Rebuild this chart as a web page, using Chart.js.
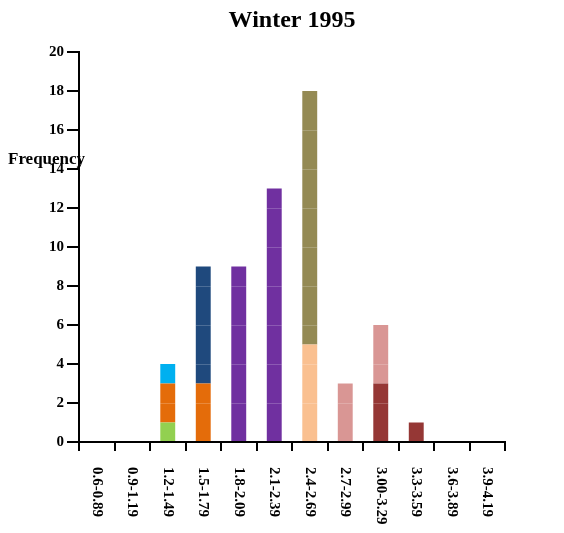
<!DOCTYPE html>
<html>
<head>
<meta charset="utf-8">
<script src="https://cdn.jsdelivr.net/npm/chart.js@4.4.1/dist/chart.umd.min.js"></script>
<style>
  html, body { margin: 0; padding: 0; background: #fff; }
  #wrap { width: 564px; height: 533px; }
</style>
</head>
<body>
<div id="wrap"><canvas id="chart"></canvas></div>
<script>
// categories (class intervals)
const categories = ['0.6-0.89', '0.9-1.19', '1.2-1.49', '1.5-1.79', '1.8-2.09', '2.1-2.39',
                    '2.4-2.69', '2.7-2.99', '3.00-3.29', '3.3-3.59', '3.6-3.89', '3.9-4.19'];

// stacked pieces, bottom to top
const greenVals  = [null, null, 1, null, null, null, null, null, null, null, null, null];
const orangeVals = [null, null, 2, 3, null, null, null, null, null, null, null, null];
const cyanVals   = [null, null, 1, null, null, null, null, null, null, null, null, null];
const navyVals   = [null, null, null, 6, null, null, null, null, null, null, null, null];
const purpleVals = [null, null, null, null, 9, 13, null, null, null, null, null, null];
const peachVals  = [null, null, null, null, null, null, 5, null, null, null, null, null];
const oliveVals  = [null, null, null, null, null, null, 13, null, null, null, null, null];
const redVals    = [null, null, null, null, null, null, null, null, 3, 1, null, null];
const pinkVals   = [null, null, null, null, null, null, null, 3, 3, null, null, null];

const yTicks = [0, 2, 4, 6, 8, 10, 12, 14, 16, 18, 20];

const serif = "'Liberation Serif', 'Times New Roman', serif";

function series(data, color) {
    return {
        data: data,
        backgroundColor: color,
        borderWidth: 0,
        barPercentage: 0.42,
        categoryPercentage: 1.0
    };
}

// faint white lines across bars at each gridline value
const barLines = {
    id: 'barLines',
    afterDatasetsDraw(chart) {
        const ctx = chart.ctx;
        const y = chart.scales.y;
        ctx.save();
        ctx.strokeStyle = 'rgba(255,255,255,0.2)';
        ctx.lineWidth = 1;
        chart.data.datasets.forEach((ds, i) => {
            chart.getDatasetMeta(i).data.forEach(bar => {
                if (!bar || bar.height === 0) return;
                const top = Math.min(bar.y, bar.base);
                const bottom = Math.max(bar.y, bar.base);
                yTicks.forEach(v => {
                    const py = y.getPixelForValue(v);
                    if (py > top + 1 && py < bottom - 1) {
                        ctx.beginPath();
                        ctx.moveTo(bar.x - bar.width / 2, Math.round(py) + 0.5);
                        ctx.lineTo(bar.x + bar.width / 2, Math.round(py) + 0.5);
                        ctx.stroke();
                    }
                });
            });
        });
        ctx.restore();
    }
};

// title, rotated category labels and the horizontal axis caption
const extraText = {
    id: 'extraText',
    afterDraw(chart) {
        const ctx = chart.ctx;
        const x = chart.scales.x;
        const area = chart.chartArea;
        ctx.save();
        ctx.fillStyle = '#000';

        ctx.font = 'bold 24px ' + serif;
        ctx.textAlign = 'center';
        ctx.textBaseline = 'middle';
        ctx.fillText('Winter 1995', (area.left + area.right) / 2, 21);

        ctx.font = 'bold 15px ' + serif;
        categories.forEach((label, i) => {
            ctx.save();
            ctx.translate(x.getPixelForTick(i), area.bottom + 25);
            ctx.rotate(Math.PI / 2);
            ctx.textAlign = 'left';
            ctx.textBaseline = 'middle';
            ctx.fillText(label, 0, 0);
            ctx.restore();
        });

        ctx.font = 'bold 17px ' + serif;
        ctx.textAlign = 'left';
        ctx.textBaseline = 'middle';
        ctx.fillText('Frequency', 8, 160);
        ctx.restore();
    }
};

new Chart(document.getElementById('chart'), {
    type: 'bar',
    data: {
        labels: categories,
        datasets: [
            series(greenVals, '#92d050'),
            series(orangeVals, '#e46c0a'),
            series(cyanVals, '#00b0f0'),
            series(navyVals, '#1f497d'),
            series(purpleVals, '#7030a0'),
            series(peachVals, '#fac090'),
            series(oliveVals, '#948a54'),
            series(redVals, '#953735'),
            series(pinkVals, '#d99694')
        ]
    },
    options: {
        responsive: true,
        maintainAspectRatio: false,
        animation: false,
        layout: { padding: { left: 46, right: 59, top: 52, bottom: 82 } },
        plugins: {
            legend: { display: false },
            tooltip: { enabled: false },
            title: { display: false }
        },
        scales: {
            x: {
                stacked: true,
                grid: { offset: true, drawOnChartArea: false, color: '#000', lineWidth: 2, tickLength: 9 },
                border: { color: '#000', width: 2 },
                ticks: { display: false }
            },
            y: {
                stacked: true,
                min: 0,
                max: 20,
                afterBuildTicks(scale) { scale.ticks = yTicks.map(v => ({ value: v })); },
                grid: { drawOnChartArea: false, color: '#000', lineWidth: 2, tickLength: 12 },
                border: { color: '#000', width: 2 },
                ticks: { color: '#000', padding: 3, font: { family: serif, size: 15, weight: 'bold' } }
            }
        }
    },
    plugins: [barLines, extraText]
});
</script>
</body>
</html>
